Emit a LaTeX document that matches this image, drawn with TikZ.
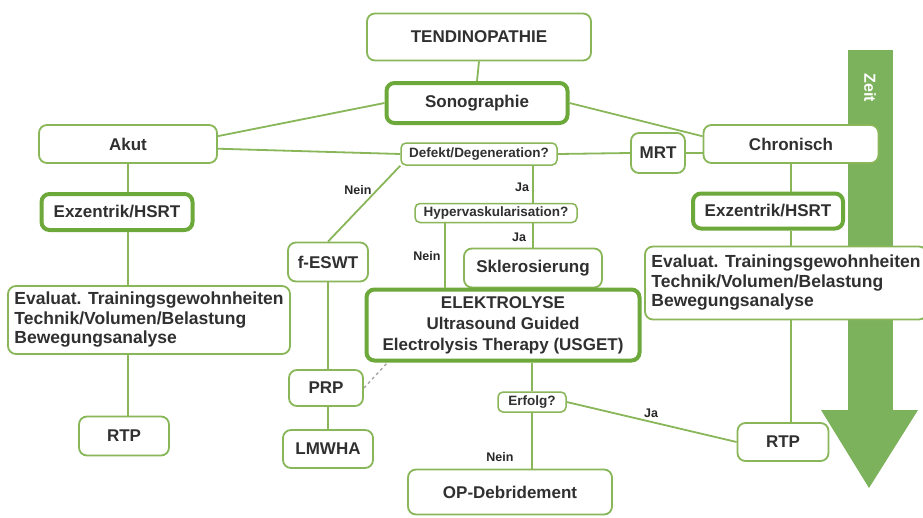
\documentclass[tikz,border=0pt]{standalone}
\usepackage{fontspec}
\setmainfont{Liberation Sans}
\usepackage{tikz}
\usetikzlibrary{positioning}
\definecolor{vertcadre}{RGB}{136,182,88}
\definecolor{vertfort}{RGB}{108,168,58}
\definecolor{vertfleche}{RGB}{124,178,92}
\definecolor{textegris}{RGB}{48,48,48}

\begin{document}
\begin{tikzpicture}[x=1pt,y=-1pt]
% définition des paramètres
\tikzstyle cadretendi=[draw=vertcadre,line width=1.8pt,rounded corners=8pt,fill=white,text=textegris,font=\bfseries\fontsize{17}{21}\selectfont,align=center,inner sep=2pt]
\tikzstyle cadreforttendi=[cadretendi,draw=vertfort,line width=4pt]
\tikzstyle questiontendi=[cadretendi,rounded corners=5pt,line width=1.5pt,font=\bfseries\fontsize{13.5}{15}\selectfont]
\tikzstyle textetendi=[cadretendi,align=left,font=\bfseries\fontsize{17.5}{19.5}\selectfont]
\tikzstyle lientendi=[draw=vertcadre,line width=1.8pt]
\tikzstyle pointilletendi=[draw=black!35,line width=1.4pt,dashed]
\tikzstyle etiqtendi=[font=\bfseries\fontsize{12.5}{14}\selectfont,text=black!85,inner sep=0pt]
\newcommand{\flechehaut}{50}  % haut de la flèche
\newcommand{\flechecou}{410}  % début de la pointe
\newcommand{\flechebas}{488}  % la pointe
\newcommand{\flechegauche}{848}
\newcommand{\flechedroite}{893}
\useasboundingbox (0,0) rectangle (923,517);
% la flèche du temps
\fill[vertfleche] (\flechegauche,\flechehaut) rectangle (\flechedroite,\flechecou+1);
\fill[vertfleche] (821,\flechecou) -- (918,\flechecou) -- (869,\flechebas) -- cycle;
\node[rotate=-90,text=white,font=\bfseries\fontsize{16}{16}\selectfont] (zeit) at (870,88) {Zeit};
% les boîtes
\node[cadretendi,minimum width=224pt,minimum height=47pt] (tendi) at (479,37) {TENDINOPATHIE};
\node[cadreforttendi,minimum width=181pt,minimum height=40pt] (sono) at (477,103) {Sonographie};
\node[cadretendi,minimum width=178pt,minimum height=38pt] (akut) at (128,144) {Akut};
\node[cadretendi,minimum width=175pt,minimum height=38pt] (chron) at (791,144) {Chronisch};
\node[questiontendi,minimum width=156pt,minimum height=22pt] (defekt) at (479,154) {Defekt/Degeneration?};
\node[cadretendi,minimum width=54pt,minimum height=40pt] (mrt) at (658,153) {MRT};
\node[cadreforttendi,minimum width=151pt,minimum height=36pt] (exzl) at (117,212) {Exzentrik/HSRT};
\node[cadreforttendi,minimum width=150pt,minimum height=35pt] (exzr) at (768,211) {Exzentrik/HSRT};
\node[questiontendi,minimum width=162pt,minimum height=19pt] (hyper) at (496,213) {Hypervaskularisation?};
\node[cadretendi,minimum width=80pt,minimum height=39pt] (feswt) at (328,262) {f-ESWT};
\node[cadretendi,minimum width=138pt,minimum height=39pt] (sklero) at (533,268) {Sklerosierung};
\node[textetendi,minimum width=282pt,minimum height=68pt] (evall) at (149,320) {Evaluat. Trainingsgewohnheiten\\Technik/Volumen/Belastung\\Bewegungsanalyse};
\node[textetendi,minimum width=282pt,minimum height=73pt] (evalr) at (786,283) {Evaluat. Trainingsgewohnheiten\\Technik/Volumen/Belastung\\Bewegungsanalyse};
\node[cadreforttendi,minimum width=273pt,minimum height=71pt] (elektro) at (503,325) {ELEKTROLYSE\\Ultrasound Guided\\Electrolysis Therapy (USGET)};
\node[cadretendi,minimum width=74pt,minimum height=36pt] (prp) at (326,388) {PRP};
\node[cadretendi,minimum width=90pt,minimum height=38pt] (lmwha) at (328,449) {LMWHA};
\node[questiontendi,minimum width=68pt,minimum height=20pt] (erfolg) at (532,402) {Erfolg?};
\node[cadretendi,minimum width=90pt,minimum height=39pt] (rtpl) at (124,436) {RTP};
\node[cadretendi,minimum width=91pt,minimum height=38pt] (rtpr) at (783,442) {RTP};
\node[cadretendi,minimum width=204pt,minimum height=45pt] (opdeb) at (510,492) {OP-Debridement};
% les liens
\coordinate (neinx) at (445,0);
\draw[lientendi] (tendi.south) -- (sono.north);
\draw[lientendi] (sono.west) -- (akut.5);
\draw[lientendi] (sono.east) -- (chron.175);
\draw[lientendi] (akut.-3) -- (defekt.west);
\draw[lientendi] (defekt.east) -- (mrt.west);
\draw[lientendi] (mrt.east) -- (mrt.east -| chron.west);
\draw[lientendi] (defekt.south west) -- (feswt.north);
\draw[lientendi] (defekt.south -| sklero.north) -- (hyper.north -| sklero.north);
\draw[lientendi] (hyper.south -| sklero.north) -- (sklero.north);
\draw[lientendi] (hyper.south -| neinx) -- (elektro.north -| neinx);
\draw[lientendi] (akut.south) -- (akut.south |- exzl.north);
\draw[lientendi] (akut.south |- exzl.south) -- (akut.south |- evall.north);
\draw[lientendi] (akut.south |- evall.south) -- (akut.south |- rtpl.north);
\draw[lientendi] (chron.south) -- (chron.south |- exzr.north);
\draw[lientendi] (chron.south |- exzr.south) -- (chron.south |- evalr.north);
\draw[lientendi] (chron.south |- evalr.south) -- (chron.south |- rtpr.north);
\draw[lientendi] (feswt.south) -- (feswt.south |- prp.north);
\draw[lientendi] (feswt.south |- prp.south) -- (feswt.south |- lmwha.north);
\draw[pointilletendi] (prp.east) -- (elektro.-162);
\draw[lientendi] (elektro.south -| erfolg.north) -- (erfolg.north);
\draw[lientendi] (erfolg.south) -- (erfolg.south |- opdeb.north);
\draw[lientendi] (erfolg.east) -- (rtpr.west);
% les étiquettes
\node[etiqtendi] (neinesw) at (358,190) {Nein};
\node[etiqtendi] (jadef) at (522,187) {Ja};
\node[etiqtendi] (jahyp) at (519,237) {Ja};
\node[etiqtendi] (neinhyp) at (427,256) {Nein};
\node[etiqtendi] (neinop) at (500,457) {Nein};
\node[etiqtendi] (jartp) at (651,413) {Ja};
\end{tikzpicture}
\end{document}
